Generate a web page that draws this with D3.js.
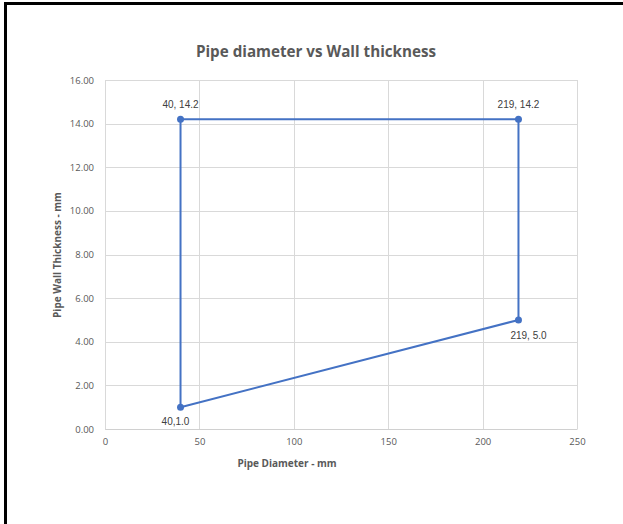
<!DOCTYPE html>
<html>
<head>
<meta charset="utf-8">
<script src="https://cdn.jsdelivr.net/npm/d3@7"></script>
<style>
  body { margin: 0; background: #fff; }
  svg { display: block; }
</style>
</head>
<body>
<div id="chart"></div>
<script>
// data
var diameters = [40, 40, 219, 219, 40];
var thickness = [1.0, 14.2, 14.2, 5.0, 1.0];
var pointLabels = ["40,1.0", "40, 14.2", "219, 14.2", "219, 5.0"];
var xTicks = [0, 50, 100, 150, 200, 250];
var yTicks = [0, 2, 4, 6, 8, 10, 12, 14, 16];

var W = 623, H = 524;
var margin = { top: 80, right: 46, bottom: 95, left: 105 },
  width = W - margin.left - margin.right,
  height = H - margin.top - margin.bottom;

var svg = d3.select("#chart").append("svg")
  .attr("width", W).attr("height", H);

// frame (top and left only)
svg.append("rect").attr("x", 4).attr("y", 2).attr("width", W - 4).attr("height", 3).attr("fill", "#000");
svg.append("rect").attr("x", 4).attr("y", 2).attr("width", 3).attr("height", H - 2).attr("fill", "#000");

var g = svg.append("g").attr("transform", "translate(" + margin.left + "," + margin.top + ")");

var x = d3.scaleLinear().domain([0, 250]).range([0, width]);
var y = d3.scaleLinear().domain([0, 16]).range([height, 0]);

// gridlines
g.append("g").selectAll("line").data(yTicks).enter().append("line")
  .attr("x1", 0).attr("x2", width)
  .attr("y1", function (d) { return Math.round(y(d)) + 0.5; })
  .attr("y2", function (d) { return Math.round(y(d)) + 0.5; })
  .attr("stroke", "#d9d9d9").attr("stroke-width", 1);
g.append("g").selectAll("line").data(xTicks).enter().append("line")
  .attr("x1", function (d) { return Math.round(x(d)) + 0.5; })
  .attr("x2", function (d) { return Math.round(x(d)) + 0.5; })
  .attr("y1", 0).attr("y2", height)
  .attr("stroke", "#d9d9d9").attr("stroke-width", 1);

// axes
var xAxis = g.append("g").attr("transform", "translate(0," + height + ")")
  .call(d3.axisBottom(x).tickValues(xTicks).tickSize(0).tickPadding(9).tickFormat(d3.format("d")));
var yAxis = g.append("g")
  .call(d3.axisLeft(y).tickValues(yTicks).tickSize(0).tickPadding(11).tickFormat(d3.format(".2f")));
[xAxis, yAxis].forEach(function (a) {
  a.select(".domain").attr("stroke", "#d0d0d0");
  a.selectAll("text").attr("fill", "#595959").style("font-family", "Open Sans, sans-serif").style("font-size", "9.5px");
});
yAxis.select(".domain").remove();

// line + markers
var pts = diameters.map(function (d, i) { return [d, thickness[i]]; });
var line = d3.line()
  .x(function (d) { return x(d[0]); })
  .y(function (d) { return y(d[1]); });
g.append("path").datum(pts)
  .attr("d", line)
  .attr("fill", "none")
  .attr("stroke", "#4472c4")
  .attr("stroke-width", 2)
  .attr("stroke-linejoin", "round");

g.selectAll(".dot").data(pts.slice(0, 4)).enter().append("circle")
  .attr("class", "dot")
  .attr("cx", function (d) { return x(d[0]); })
  .attr("cy", function (d) { return y(d[1]); })
  .attr("r", 3.5)
  .attr("fill", "#4472c4");

// data labels: below for 1st and 4th point, above for the others
var offsets = [[-5, 18], [0, -11], [0, -11], [10, 19]];
g.selectAll(".lbl").data(pts.slice(0, 4)).enter().append("text")
  .attr("class", "lbl")
  .attr("x", function (d, i) { return x(d[0]) + offsets[i][0]; })
  .attr("y", function (d, i) { return y(d[1]) + offsets[i][1]; })
  .attr("text-anchor", "middle")
  .attr("fill", "#404040")
  .style("font-family", "'Liberation Sans', Arial, sans-serif")
  .style("font-size", "10px")
  .text(function (d, i) { return pointLabels[i]; });

// titles
svg.append("text")
  .attr("x", 316).attr("y", 57)
  .attr("text-anchor", "middle")
  .attr("fill", "#595959")
  .style("font-family", "Open Sans, sans-serif")
  .style("font-size", "15.2px").style("font-weight", "bold")
  .text("Pipe diameter vs Wall thickness");

svg.append("text")
  .attr("x", 287).attr("y", 467)
  .attr("text-anchor", "middle")
  .attr("fill", "#595959")
  .style("font-family", "Open Sans, sans-serif")
  .style("font-size", "10px").style("font-weight", "bold")
  .text("Pipe Diameter - mm");

svg.append("text")
  .attr("transform", "translate(61,255) rotate(-90)")
  .attr("text-anchor", "middle")
  .attr("fill", "#595959")
  .style("font-family", "Open Sans, sans-serif")
  .style("font-size", "10px").style("font-weight", "bold")
  .text("Pipe Wall Thickness - mm");
</script>
</body>
</html>
